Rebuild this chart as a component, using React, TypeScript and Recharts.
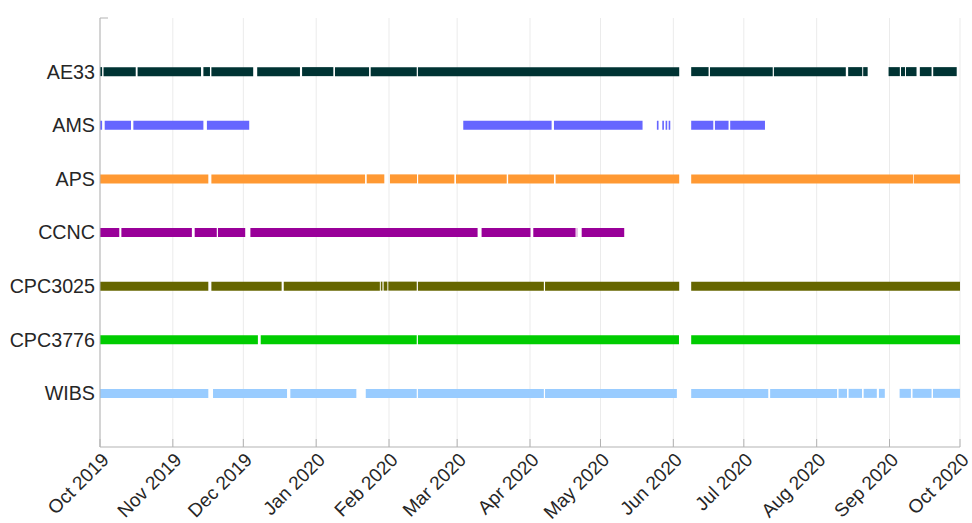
import React from 'react';
import { LineChart, Line, XAxis, YAxis, CartesianGrid, ReferenceLine } from 'recharts';

// days since 1 Oct 2019
const MONTH_TICKS = [0, 31, 61, 92, 123, 152, 183, 213, 244, 274, 305, 336, 366];
const MONTH_LABELS = [
  'Oct 2019', 'Nov 2019', 'Dec 2019', 'Jan 2020', 'Feb 2020', 'Mar 2020', 'Apr 2020',
  'May 2020', 'Jun 2020', 'Jul 2020', 'Aug 2020', 'Sep 2020', 'Oct 2020',
];

const INSTRUMENTS = ['AE33', 'AMS', 'APS', 'CCNC', 'CPC3025', 'CPC3776', 'WIBS'];
const COLORS = ['#003333', '#6666ff', '#ff9933', '#990099', '#666600', '#00cc00', '#99ccff'];

// [start, end] of each measurement run, in days since 1 Oct 2019
const AE33_RUNS = [
  [0, 0.9], [1.5, 15.2], [16.0, 43.0], [44.0, 46.8], [47.4, 65.2], [66.9, 85.1],
  [86.0, 99.3], [100.0, 114.5], [115.2, 134.8], [135.3, 246.5], [251.6, 259.0],
  [259.6, 286.3], [286.8, 317.4], [318.4, 324.4], [324.8, 326.7], [335.6, 340.4],
  [340.9, 342.6], [343.0, 347.5], [348.9, 353.9], [354.6, 364.6],
];
const AMS_RUNS = [
  [0, 0.9], [2.0, 13.2], [14.2, 44.0], [45.5, 63.5], [154.6, 192.2], [193.2, 230.9],
  [237.0, 237.7], [239.3, 240.0], [240.7, 241.4], [242.0, 242.7], [251.6, 261.0],
  [261.7, 267.5], [268.2, 283.0],
];
const APS_RUNS = [
  [0, 46.1], [47.4, 112.8], [113.5, 121.0], [123.4, 134.9], [135.4, 150.8],
  [151.5, 173.1], [173.7, 193.2], [193.9, 246.5], [251.6, 346.0], [346.3, 366],
];
const CCNC_RUNS = [
  [0, 8.2], [9.1, 39.1], [40.3, 49.7], [50.2, 61.8], [64.0, 160.7], [162.4, 183.2],
  [184.4, 202.4], [202.9, 203.1], [205.0, 223.1],
];
const CPC3025_RUNS = [
  [0, 46.1], [47.4, 77.3], [78.2, 119.1], [119.5, 120.2], [120.7, 122.3], [122.7, 134.8],
  [135.3, 188.9], [189.4, 246.5], [251.6, 366],
];
const CPC3776_RUNS = [
  [0, 67.2], [68.4, 134.8], [135.3, 246.4], [251.6, 366],
];
const WIBS_RUNS = [
  [0, 46.1], [48.1, 79.6], [81.0, 109.1], [113.1, 134.8], [135.3, 188.9], [189.4, 245.5],
  [251.6, 284.4], [285.2, 313.7], [314.3, 317.9], [318.6, 324.3], [325.0, 330.6],
  [331.5, 334.0], [340.3, 345.1], [345.8, 353.9], [354.5, 366],
];

const RUNS = [AE33_RUNS, AMS_RUNS, APS_RUNS, CCNC_RUNS, CPC3025_RUNS, CPC3776_RUNS, WIBS_RUNS];

const AXIS_COLOR = '#b3b3b3';
const TEXT_COLOR = '#262626';
const FONT = '"Liberation Sans", Arial, Helvetica, sans-serif';

// row value on the y axis: AE33 at the top
const rowOf = (i: number) => INSTRUMENTS.length - i;

const segments = RUNS.flatMap((runs, i) =>
  runs.map(([s, e], j) => ({
    key: `${INSTRUMENTS[i]}-${j}`,
    color: COLORS[i],
    data: [
      { day: s, row: rowOf(i) },
      { day: e, row: rowOf(i) },
    ],
  }))
);

function MonthTick(props: any) {
  const { x, y, payload } = props;
  const idx = MONTH_TICKS.indexOf(payload.value);
  const tx = x + 10;
  const ty = y + 14;
  return (
    <g>
      <line x1={x} y1={y} x2={x} y2={y - 8} stroke={AXIS_COLOR} />
      <text
        x={tx}
        y={ty}
        textAnchor="end"
        fontSize={19}
        fill={TEXT_COLOR}
        fontFamily={FONT}
        transform={`rotate(-45, ${tx}, ${ty})`}
      >
        {MONTH_LABELS[idx]}
      </text>
    </g>
  );
}

export default function App() {
  return (
    <div style={{ position: 'absolute', left: 0, top: 0, width: 972, height: 523, background: '#fff' }}>
      <LineChart width={972} height={523} margin={{ top: 18, right: 12, bottom: 0, left: 0 }}>
        <CartesianGrid vertical horizontal={false} stroke="#ebebeb" />
        <XAxis
          dataKey="day"
          type="number"
          domain={[0, 366]}
          ticks={MONTH_TICKS}
          allowDataOverflow
          height={76}
          tickSize={0}
          tickMargin={0}
          tickLine={false}
          axisLine={{ stroke: AXIS_COLOR }}
          tick={<MonthTick />}
          interval={0}
        />
        <YAxis
          type="number"
          domain={[0, 8]}
          ticks={[1, 2, 3, 4, 5, 6, 7]}
          width={100}
          tickSize={0}
          tickMargin={5}
          tickLine={false}
          axisLine={{ stroke: AXIS_COLOR }}
          tickFormatter={(v: number) => INSTRUMENTS[INSTRUMENTS.length - v]}
          tick={{ fontSize: 19.7, fill: TEXT_COLOR, fontFamily: FONT }}
          interval={0}
        />
        <ReferenceLine
          segment={[{ x: 0, y: 8 }, { x: 3.4, y: 8 }]}
          stroke={AXIS_COLOR}
          ifOverflow="visible"
        />
        {segments.map((seg) => (
          <Line
            key={seg.key}
            data={seg.data}
            dataKey="row"
            stroke={seg.color}
            strokeWidth={9}
            strokeLinecap="butt"
            dot={false}
            activeDot={false}
            legendType="none"
            isAnimationActive={false}
          />
        ))}
      </LineChart>
    </div>
  );
}
